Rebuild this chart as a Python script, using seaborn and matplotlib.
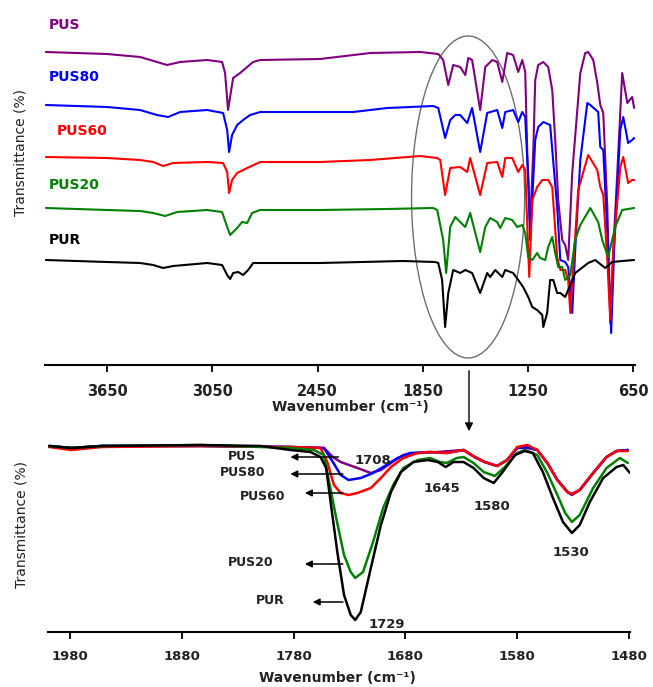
import matplotlib
matplotlib.use("Agg")
import matplotlib.pyplot as plt
import seaborn as sns
import pandas as pd
from matplotlib.patches import Ellipse, FancyArrowPatch

# ---------------- full-range FTIR spectra (stacked, arbitrary transmittance units) ----------------
pus_wn = [4000, 3651, 3463, 3366, 3309, 3234, 3080, 2995, 2978, 2961, 2943, 2932, 2892, 2852, 2818,
          2778, 2436, 2150, 1865, 1762, 1734, 1705, 1677, 1637, 1608, 1591, 1569, 1523, 1494, 1454,
          1426, 1397, 1369, 1335, 1306, 1283, 1266, 1255, 1238, 1220, 1209, 1192, 1163, 1135, 1112,
          1095, 1078, 1055, 1038, 1021, 998, 952, 924, 907, 878, 855, 838, 821, 798, 781,
          764, 741, 713, 684, 656, 645]
pus_t = [313, 311, 308, 303, 300, 303, 305, 303, 292, 255, 275, 287, 292, 298, 303,
         305, 306, 312, 313, 311, 305, 280, 300, 298, 290, 307, 305, 255, 298, 305,
         303, 283, 312, 310, 293, 305, 293, 215, 140, 215, 285, 300, 303, 298, 275,
         225, 165, 125, 120, 105, 192, 292, 312, 313, 305, 282, 260, 252, 158, 42,
         115, 192, 292, 262, 268, 257]

pus80_wn = [4000, 3651, 3463, 3366, 3303, 3234, 3080, 2989, 2966, 2955, 2938, 2909, 2875, 2835, 2778,
            2436, 2247, 2053, 1791, 1762, 1723, 1694, 1665, 1637, 1597, 1569, 1523, 1483, 1426, 1397,
            1380, 1335, 1306, 1283, 1266, 1249, 1238, 1226, 1209, 1192, 1163, 1124, 1084, 1066, 1038,
            1021, 998, 981, 952, 912, 895, 850, 838, 821, 793, 776, 759, 724, 707, 679, 656, 645]
pus80_t = [260, 258, 255, 250, 248, 253, 255, 252, 235, 213, 230, 240, 245, 250, 253,
           253, 253, 257, 259, 257, 227, 245, 250, 250, 242, 257, 213, 252, 255, 237,
           253, 255, 243, 253, 248, 185, 125, 165, 225, 238, 243, 240, 158, 105, 103,
           98, 52, 115, 205, 262, 260, 253, 218, 215, 115, 32, 115, 235, 248, 222, 225, 227]

pus60_wn = [4000, 3651, 3463, 3388, 3331, 3274, 3080, 2989, 2966, 2955, 2938, 2909, 2852, 2778, 2436,
            2150, 1865, 1768, 1751, 1723, 1694, 1637, 1597, 1580, 1523, 1483, 1426, 1397, 1380, 1340,
            1306, 1283, 1266, 1249, 1243, 1226, 1198, 1169, 1135, 1112, 1084, 1066, 1038, 1021, 1009,
            990, 964, 907, 855, 838, 821, 798, 781, 764, 724, 707, 679, 656, 645]
pus60_t = [208, 207, 205, 203, 199, 202, 203, 202, 193, 172, 185, 192, 197, 203, 203,
           205, 209, 207, 205, 170, 197, 198, 193, 207, 170, 202, 203, 188, 207, 207,
           193, 200, 195, 115, 88, 165, 178, 185, 185, 178, 108, 95, 95, 85, 52,
           105, 175, 210, 195, 178, 170, 105, 45, 115, 198, 208, 182, 185, 185]

pus20_wn = [4000, 3651, 3463, 3388, 3320, 3251, 3080, 2995, 2966, 2949, 2909, 2881, 2852, 2824, 2778,
            2436, 2053, 1791, 1768, 1734, 1717, 1694, 1665, 1637, 1608, 1580, 1523, 1494, 1466, 1426,
            1409, 1380, 1340, 1312, 1283, 1266, 1249, 1226, 1198, 1181, 1152, 1135, 1112, 1095, 1078,
            1055, 1038, 1009, 981, 952, 895, 850, 827, 793, 753, 713, 645]
pus20_t = [157, 155, 154, 152, 149, 153, 155, 153, 138, 130, 137, 143, 142, 152, 155,
           155, 156, 157, 155, 125, 92, 138, 148, 143, 138, 152, 113, 138, 147, 143,
           137, 147, 145, 138, 140, 132, 108, 105, 112, 107, 105, 118, 128, 112, 98,
           98, 85, 90, 125, 140, 157, 143, 125, 108, 138, 155, 157]

pur_wn = [4000, 3651, 3463, 3388, 3331, 3274, 3080, 2995, 2966, 2949, 2932, 2903, 2875, 2846, 2818,
          2436, 1962, 1780, 1762, 1740, 1723, 1705, 1677, 1637, 1608, 1569, 1523, 1483, 1466, 1437,
          1397, 1380, 1335, 1306, 1278, 1249, 1226, 1198, 1169, 1163, 1141, 1124, 1106, 1084, 1066,
          1038, 1021, 981, 907, 867, 810, 770, 713, 645]
pur_t = [105, 103, 102, 100, 97, 99, 102, 100, 90, 86, 92, 93, 90, 95, 102,
         102, 104, 103, 102, 85, 38, 72, 95, 92, 95, 92, 72, 92, 88, 95,
         88, 95, 92, 85, 78, 68, 58, 55, 50, 38, 52, 85, 85, 72, 72,
         68, 75, 92, 102, 105, 97, 103, 104, 105]

# ---------------- carbonyl region, 2000-1480 cm-1 ----------------
z_pur_wn = [1999, 1979, 1952, 1863, 1809, 1783, 1765, 1756, 1751, 1747, 1741, 1735, 1729, 1725, 1720,
            1711, 1702, 1693, 1684, 1673, 1660, 1651, 1644, 1637, 1628, 1619, 1610, 1601, 1593, 1582,
            1573, 1566, 1557, 1548, 1539, 1531, 1524, 1515, 1503, 1491, 1485, 1479]
z_pur_t = [186, 184, 186, 187, 186, 182, 180, 175, 164, 130, 80, 37, 17, 12, 20,
           64, 107, 140, 160, 170, 172, 170, 165, 170, 170, 164, 154, 149, 160, 177,
           181, 179, 160, 134, 110, 99, 107, 130, 154, 165, 167, 159]

z_pus20_wn = [1999, 1979, 1952, 1863, 1783, 1762, 1753, 1749, 1742, 1735, 1729, 1725, 1718, 1709, 1700,
              1691, 1682, 1669, 1658, 1649, 1643, 1634, 1628, 1619, 1610, 1600, 1591, 1580, 1573, 1562,
              1553, 1544, 1537, 1531, 1524, 1512, 1500, 1488, 1481]
z_pus20_t = [186, 184, 186, 187, 184, 182, 177, 154, 114, 77, 60, 54, 60, 90, 124,
             147, 164, 172, 174, 170, 169, 174, 175, 169, 160, 156, 165, 179, 182, 177,
             159, 137, 119, 110, 117, 144, 164, 174, 169]

z_pus60_wn = [1999, 1979, 1952, 1863, 1783, 1756, 1750, 1744, 1738, 1731, 1723, 1711, 1702, 1693, 1682,
              1669, 1658, 1643, 1628, 1618, 1609, 1598, 1589, 1580, 1571, 1562, 1553, 1544, 1535, 1531,
              1524, 1512, 1500, 1491, 1481]
z_pus60_t = [185, 182, 185, 186, 185, 184, 170, 147, 139, 137, 139, 144, 154, 165, 174,
             179, 180, 179, 182, 175, 170, 166, 172, 185, 187, 182, 169, 152, 140, 138,
             142, 159, 175, 181, 181]

z_pus80_wn = [1999, 1979, 1952, 1863, 1783, 1753, 1745, 1738, 1731, 1720, 1709, 1700, 1687, 1676, 1658,
              1643, 1628, 1618, 1609, 1598, 1589, 1580, 1571, 1562, 1553, 1544, 1535, 1531, 1524, 1512,
              1500, 1491, 1481]
z_pus80_t = [186, 184, 186, 186, 185, 184, 170, 157, 152, 154, 159, 165, 174, 179, 180,
             179, 182, 175, 170, 166, 172, 184, 185, 182, 169, 152, 140, 138, 142, 159,
             175, 181, 182]

z_pus_wn = [1999, 1979, 1952, 1863, 1783, 1753, 1745, 1738, 1723, 1711, 1702, 1693, 1682, 1669, 1651,
            1628, 1618, 1609, 1598, 1589, 1580, 1571, 1562, 1553, 1544, 1535, 1531, 1524, 1512, 1500,
            1491, 1481]
z_pus_t = [186, 184, 186, 186, 185, 184, 175, 170, 164, 159, 162, 169, 177, 179, 180,
           182, 175, 170, 166, 172, 184, 184, 182, 169, 152, 140, 137, 142, 159, 175,
           181, 182]

top_ticks = [3650, 3050, 2450, 1850, 1250, 650]
zoom_ticks = [1980, 1880, 1780, 1680, 1580, 1480]

# ---------------- styling ----------------
sns.set_theme(style="white")
plt.rcParams["font.family"] = ["DejaVu Sans"]

PURPLE, BLUE, RED, GREEN, BLACK = "#800080", "#0000ff", "#ff0000", "#008000", "#000000"

W, H = 653, 687
fig = plt.figure(figsize=(W / 100, H / 100), dpi=100)


def axes_px(left, top, right, bottom):
    return fig.add_axes([left / W, 1 - bottom / H, (right - left) / W, (bottom - top) / H])


ax1 = axes_px(45, 15, 635, 365)
ax2 = axes_px(48, 432, 630, 632)

top_series = [
    ("PUS", pus_wn, pus_t, PURPLE),
    ("PUS80", pus80_wn, pus80_t, BLUE),
    ("PUS60", pus60_wn, pus60_t, RED),
    ("PUS20", pus20_wn, pus20_t, GREEN),
    ("PUR", pur_wn, pur_t, BLACK),
]
for name, wn, t, c in top_series:
    df = pd.DataFrame({"wn": wn, "t": t})
    sns.lineplot(data=df, x="wn", y="t", ax=ax1, color=c, lw=1.5,
                 estimator=None, sort=False, legend=False)

zoom_series = [
    ("PUS", z_pus_wn, z_pus_t, PURPLE),
    ("PUS80", z_pus80_wn, z_pus80_t, BLUE),
    ("PUS60", z_pus60_wn, z_pus60_t, RED),
    ("PUS20", z_pus20_wn, z_pus20_t, GREEN),
    ("PUR", z_pur_wn, z_pur_t, BLACK),
]
for name, wn, t, c in zoom_series:
    df = pd.DataFrame({"wn": wn, "t": t})
    sns.lineplot(data=df, x="wn", y="t", ax=ax2, color=c, lw=1.8,
                 estimator=None, sort=False, legend=False)

# axes cosmetics
for ax, lim, ticks, tsize, pad, ylim in [
    (ax1, (4005, 640), top_ticks, 10.5, 9, (0, 350)),
    (ax2, (2000, 1479), zoom_ticks, 9.5, 8, (0, 200)),
]:
    ax.set_xlim(*lim)
    ax.set_ylim(*ylim)
    ax.set_yticks([])
    ax.set_xticks(ticks)
    ax.set_xticklabels([str(v) for v in ticks], fontweight="bold", fontsize=tsize)
    ax.tick_params(axis="x", bottom=True, direction="out", length=5, width=1.3,
                   color="black", pad=pad, labelcolor="#222222")
    for side in ("left", "top", "right"):
        ax.spines[side].set_visible(False)
    ax.spines["bottom"].set_color("black")
    ax.spines["bottom"].set_linewidth(1.5)
    ax.set_facecolor("none")
    ax.set_xlabel("Wavenumber (cm⁻¹)", fontweight="bold", fontsize=10, color="#222222")
    ax.set_ylabel("Transmittance (%)", fontsize=10, color="#222222")

ax1.xaxis.set_label_coords(0.517, -0.10)
ax2.xaxis.set_label_coords(0.498, -0.195)
ax1.yaxis.set_label_coords(-0.030, 0.606)
ax2.yaxis.set_label_coords(-0.034, 0.535)

# sample names above each full-range trace
for name, x, y, c in [("PUS", 3982, 340, PURPLE), ("PUS80", 3982, 288, BLUE),
                      ("PUS60", 3937, 234, RED), ("PUS20", 3982, 180, GREEN),
                      ("PUR", 3982, 125, BLACK)]:
    ax1.text(x, y, name, color=c, fontsize=10, fontweight="bold", ha="left", va="center")

# ellipse marking the carbonyl / amide region
ax1.add_patch(Ellipse((1592, 168), width=645, height=322, fill=False,
                      ec="#6e6e6e", lw=1.0, clip_on=False))

# arrow from the ellipse down to the expanded panel
fig.add_artist(FancyArrowPatch((469 / W, 1 - 368 / H), (469 / W, 1 - 434 / H),
                               transform=fig.transFigure, arrowstyle="-|>",
                               mutation_scale=12, color="black", lw=1.0))

# sample names with arrows in the expanded panel
for name, lx, ly, head, tail in [("PUS", 1826, 176, 1783, 1740),
                                 ("PUS80", 1826, 159, 1783, 1736),
                                 ("PUS60", 1808, 136, 1770, 1736),
                                 ("PUS20", 1819, 69, 1770, 1736),
                                 ("PUR", 1801, 31, 1763, 1736)]:
    ax2.text(lx, ly, name, fontsize=9, fontweight="bold", color="#222222",
             ha="center", va="center")
    arrow_y = ly - 1 if name != "PUS60" else ly + 3
    ax2.annotate("", xy=(head, arrow_y), xytext=(tail, arrow_y),
                 arrowprops=dict(arrowstyle="-|>", color="black", lw=1.1,
                                 mutation_scale=10, shrinkA=0, shrinkB=0))

# band positions
for txt, x, y in [("1708", 1709, 172), ("1645", 1647, 144), ("1580", 1603, 126),
                  ("1530", 1532, 80), ("1729", 1697, 7)]:
    ax2.text(x, y, txt, fontsize=9.5, fontweight="bold", color="#222222",
             ha="center", va="center")

fig.savefig("out.png", dpi=100)
